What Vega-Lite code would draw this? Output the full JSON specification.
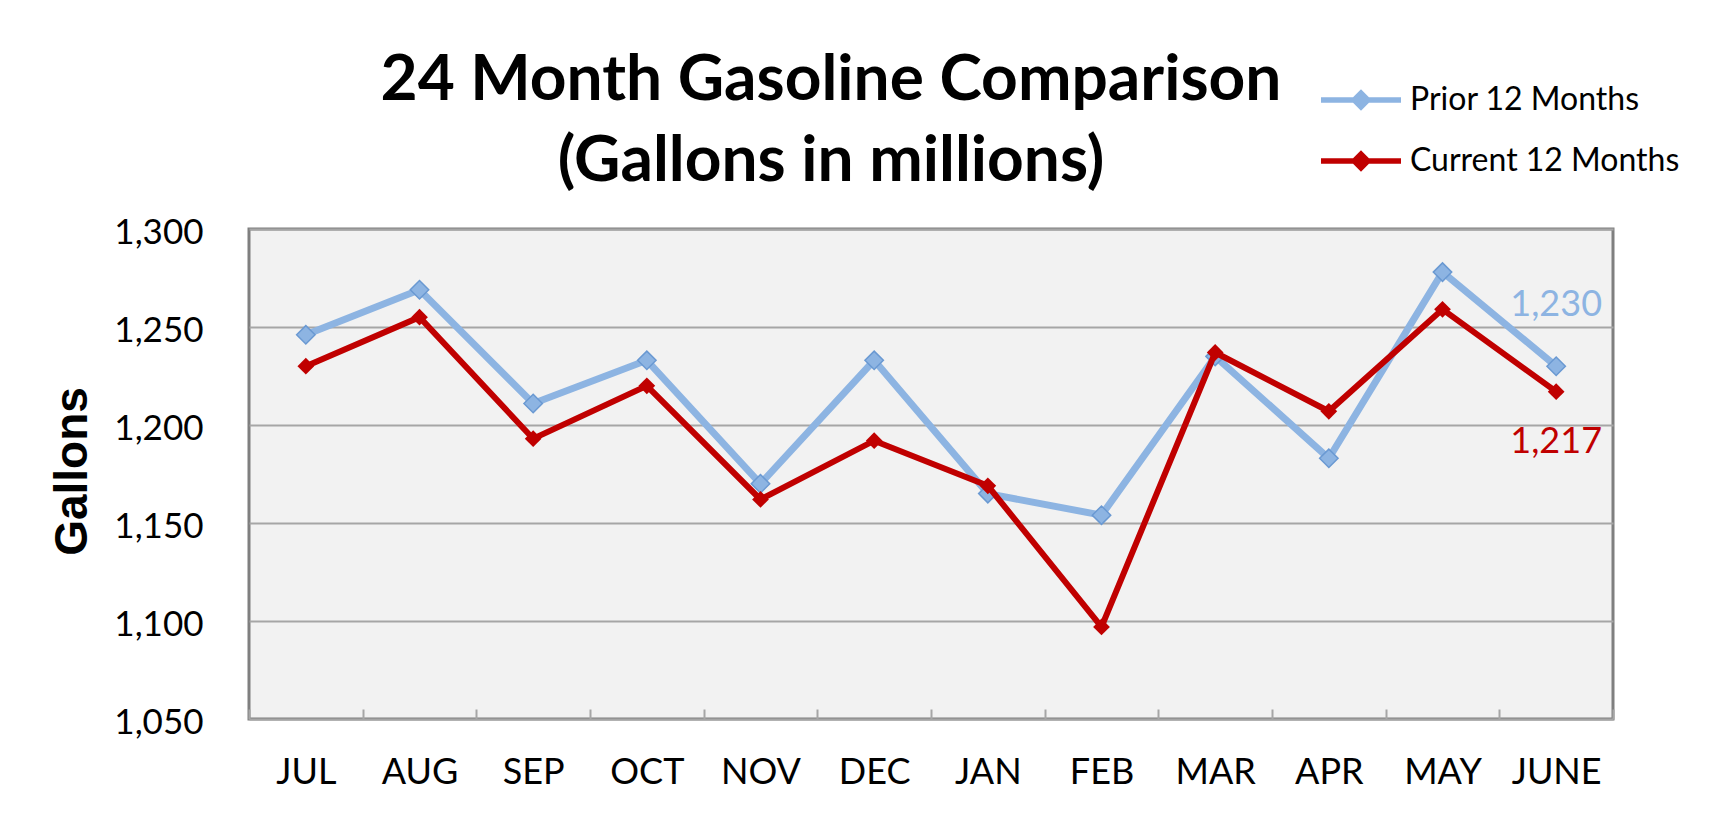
{
  "$schema": "https://vega.github.io/schema/vega-lite/v6.json",
  "width": 1364,
  "height": 490,
  "autosize": {"type": "none"},
  "padding": {"left": 249, "top": 229, "right": 98, "bottom": 113},
  "background": "white",
  "title": {
    "text": ["24 Month Gasoline Comparison", "(Gallons in millions)"],
    "font": "Lato",
    "fontSize": 64,
    "fontWeight": "bold",
    "lineHeight": 81,
    "color": "black",
    "anchor": "middle",
    "frame": "group",
    "dx": -100,
    "dy": 177,
    "offset": 40
  },
  "data": {
    "values": [
      {"month": "JUL", "series": "Prior 12 Months", "value": 1246},
      {"month": "AUG", "series": "Prior 12 Months", "value": 1269},
      {"month": "SEP", "series": "Prior 12 Months", "value": 1211},
      {"month": "OCT", "series": "Prior 12 Months", "value": 1233},
      {"month": "NOV", "series": "Prior 12 Months", "value": 1170},
      {"month": "DEC", "series": "Prior 12 Months", "value": 1233},
      {"month": "JAN", "series": "Prior 12 Months", "value": 1165},
      {"month": "FEB", "series": "Prior 12 Months", "value": 1154},
      {"month": "MAR", "series": "Prior 12 Months", "value": 1235},
      {"month": "APR", "series": "Prior 12 Months", "value": 1183},
      {"month": "MAY", "series": "Prior 12 Months", "value": 1278},
      {"month": "JUNE", "series": "Prior 12 Months", "value": 1230},
      {"month": "JUL", "series": "Current 12 Months", "value": 1230},
      {"month": "AUG", "series": "Current 12 Months", "value": 1255},
      {"month": "SEP", "series": "Current 12 Months", "value": 1193},
      {"month": "OCT", "series": "Current 12 Months", "value": 1220},
      {"month": "NOV", "series": "Current 12 Months", "value": 1162},
      {"month": "DEC", "series": "Current 12 Months", "value": 1192},
      {"month": "JAN", "series": "Current 12 Months", "value": 1169},
      {"month": "FEB", "series": "Current 12 Months", "value": 1097},
      {"month": "MAR", "series": "Current 12 Months", "value": 1237},
      {"month": "APR", "series": "Current 12 Months", "value": 1207},
      {"month": "MAY", "series": "Current 12 Months", "value": 1259},
      {"month": "JUNE", "series": "Current 12 Months", "value": 1217}
    ]
  },
  "encoding": {
    "x": {
      "field": "month",
      "type": "ordinal",
      "sort": ["JUL","AUG","SEP","OCT","NOV","DEC","JAN","FEB","MAR","APR","MAY","JUNE"],
      "scale": {"type": "band", "paddingInner": 0, "paddingOuter": 0},
      "axis": {
        "title": null,
        "domain": false,
        "labelAngle": 0,
        "labelFont": "Lato",
        "labelFontSize": 36,
        "labelColor": "black",
        "labelBaseline": "alphabetic",
        "labelPadding": 74,
        "ticks": true,
        "tickBand": "extent",
        "tickSize": -10,
        "tickColor": "#a6a6a6",
        "tickWidth": 2,
        "grid": false
      }
    },
    "y": {
      "field": "value",
      "type": "quantitative",
      "scale": {"domain": [1050, 1300], "zero": false, "nice": false},
      "axis": {
        "title": "Gallons",
        "titleFont": "Liberation Sans",
        "titleFontSize": 46,
        "titleFontWeight": "bold",
        "titleColor": "black",
        "titleAngle": -90,
        "titleX": -177,
        "titleY": 242,
        "titleAlign": "center",
        "titleBaseline": "middle",
        "values": [1050, 1100, 1150, 1200, 1250, 1300],
        "format": ",d",
        "domain": false,
        "ticks": false,
        "labelFont": "Lato",
        "labelFontSize": 35,
        "labelColor": "black",
        "labelBaseline": "alphabetic",
        "labelOffset": 14,
        "labelPadding": 46,
        "grid": true,
        "gridColor": "#a6a6a6",
        "gridWidth": 2
      }
    },
    "color": {
      "field": "series",
      "type": "nominal",
      "scale": {"domain": ["Prior 12 Months", "Current 12 Months"], "range": ["#8DB4E2", "#C00000"]},
      "legend": {
        "title": null,
        "orient": "none",
        "legendX": 1069,
        "legendY": -172,
        "padding": 0,
        "symbolType": "M-1,0L1,0M0,-0.17L0.17,0L0,0.17L-0.17,0Z",
        "symbolSize": 6400,
        "symbolStrokeWidth": 5.5,
        "symbolOpacity": 1,
        "labelFont": "Lato",
        "labelFontSize": 32,
        "labelColor": "black",
        "labelOffset": 6,
        "labelLimit": 500,
        "rowPadding": -19,
        "encode": {
          "symbols": {
            "update": {
              "fill": {"scale": "color", "field": "value"},
              "stroke": {"scale": "color", "field": "value"},
              "opacity": {"value": 1}
            }
          }
        }
      }
    }
  },
  "layer": [
    {
      "transform": [{"filter": "datum.series === 'Prior 12 Months'"}],
      "mark": {"type": "line", "strokeWidth": 7}
    },
    {
      "transform": [{"filter": "datum.series === 'Prior 12 Months'"}],
      "mark": {"type": "point", "shape": "diamond", "filled": true, "size": 340, "opacity": 1, "stroke": "#6A99D2", "strokeWidth": 1.5}
    },
    {
      "transform": [{"filter": "datum.series === 'Current 12 Months'"}],
      "mark": {"type": "line", "strokeWidth": 6}
    },
    {
      "transform": [{"filter": "datum.series === 'Current 12 Months'"}],
      "mark": {"type": "point", "shape": "diamond", "filled": true, "size": 280, "opacity": 1}
    },
    {
      "transform": [{"filter": "datum.series === 'Prior 12 Months' && datum.month === 'JUNE'"}],
      "mark": {"type": "text", "font": "Lato", "fontSize": 36, "color": "#8DB4E2", "align": "center", "baseline": "alphabetic", "dy": -50},
      "encoding": {"text": {"field": "value", "type": "quantitative", "format": ",d"}, "color": {"value": "#8DB4E2"}}
    },
    {
      "transform": [{"filter": "datum.series === 'Current 12 Months' && datum.month === 'JUNE'"}],
      "mark": {"type": "text", "font": "Lato", "fontSize": 36, "color": "#C00000", "align": "center", "baseline": "alphabetic", "dy": 61},
      "encoding": {"text": {"field": "value", "type": "quantitative", "format": ",d"}, "color": {"value": "#C00000"}}
    }
  ],
  "config": {
    "view": {"fill": "#f2f2f2", "stroke": "#7f7f7f", "strokeWidth": 3}
  }
}
